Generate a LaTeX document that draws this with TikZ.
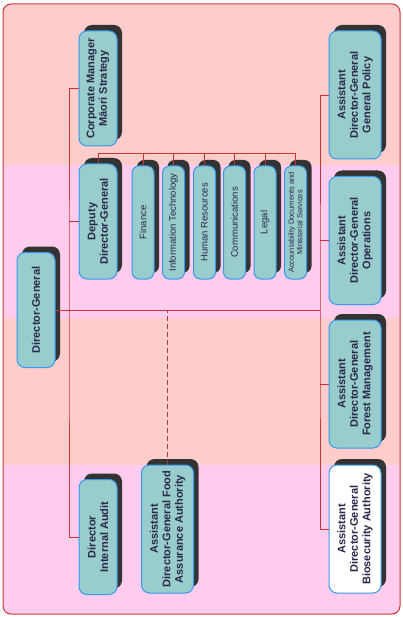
\documentclass[tikz,border=0pt]{standalone}
\usepackage{fontspec}
\setmainfont{Liberation Sans}
\usepackage{tikz}

\definecolor{bandpink}{HTML}{FFCCCC}
\definecolor{bandmauve}{HTML}{FFCCEE}
\definecolor{framered}{HTML}{CC3333}
\definecolor{linkred}{HTML}{CC3333}
\definecolor{dashbrown}{HTML}{994444}
\definecolor{boxteal}{HTML}{99CCCC}
\definecolor{boxedge}{HTML}{3399EE}
\definecolor{shadegray}{HTML}{333333}
\definecolor{inkblue}{HTML}{28284A}

\begin{document}
\begin{tikzpicture}[x=1pt, y=-1pt,
		unit/.style={rotate=90, draw=boxedge, fill=boxteal, line width=1pt,
			rounded corners=8pt, text=inkblue, align=center, inner sep=1pt,
			font=\fontsize{11}{12.5}\selectfont\bfseries,
			preaction={fill=shadegray, draw=none, transform canvas={shift={(5,-6)}}}},
		narrow/.style={unit, minimum width=115pt, minimum height=38pt},
		wide/.style={unit, minimum width=128pt, minimum height=52pt},
		slim/.style={unit, rounded corners=7pt, minimum width=113pt, minimum height=22pt,
			font=\fontsize{9.5}{10}\selectfont},
		link/.style={draw=linkred, line width=0.8pt}]
		\useasboundingbox (0,0) rectangle (403,617);
		% background bands and frame
		\begin{scope}
			\clip[rounded corners=8pt] (3,4) rectangle (400,614);
			\fill[bandpink] (3,4) rectangle (400,165);
			\fill[bandmauve] (3,165) rectangle (400,318);
			\fill[bandpink] (3,318) rectangle (400,465);
			\fill[bandmauve] (3,465) rectangle (400,614);
		\end{scope}
		\draw[framered, line width=1pt, rounded corners=8pt] (3,4) rectangle (400,614);
		% offices
		\node[narrow] (dg) at (36,310) {Director-General};
		\node[narrow] (maori) at (98,88.5) {Corporate Manager\\Māori Strategy};
		\node[narrow] (ddg) at (98,221.5) {Deputy\\Director-General};
		\node[narrow] (audit) at (98,537) {Director\\Internal Audit};
		\node[wide] (food) at (167.5,529) {Assistant\\Director-General Food\\Assurance Authority};
		\node[wide] (policy) at (355,95) {Assistant\\Director-General\\General Policy};
		\node[wide] (ops) at (355,240.5) {Assistant\\Director-General\\Operations};
		\node[wide] (forest) at (355,384) {Assistant\\Director-General\\Forest Management};
		\node[wide, fill=white] (bio) at (355,529) {Assistant\\Director-General\\Biosecurity Authority};
		% groups under the deputy
		\foreach \name/\xc/\txt in {fin/143/Finance, it/173.5/Information Technology,
				hr/204.5/Human Resources, comm/234.5/Communications, legal/265/Legal}
			\node[slim] (\name) at (\xc,222.5) {\txt};
		\node[slim, font=\fontsize{7.5}{8.5}\selectfont] (acc) at (295.5,222.5)
			{Accountability Documents and\\Ministerial Services};
		% spines
		\coordinate (lspine) at (69,310);
		\coordinate (rspine) at (320,310);
		\coordinate (bus) at (98,153);
		\draw[link] (maori.north) -| (lspine) |- (audit.north);
		\draw[link] (ddg.north) -- (ddg.north -| lspine);
		\draw[link] (dg.south) -- (dg.south -| rspine);
		\draw[link] (policy.north) -| (rspine) |- (bio.north);
		\draw[link] (ops.north) -- (ops.north -| rspine);
		\draw[link] (forest.north) -- (forest.north -| rspine);
		% bus over the groups
		\draw[link] (ddg.east) -- (bus) -- (bus -| acc.east);
		\foreach \name in {fin,it,hr,comm,legal,acc}
			\draw[link] (\name.east) -- (\name.east |- bus);
		\draw[dashbrown, line width=0.8pt, dash pattern=on 5pt off 3pt] (food.east) -- (food.east |- rspine);
	\end{tikzpicture}
\end{document}
